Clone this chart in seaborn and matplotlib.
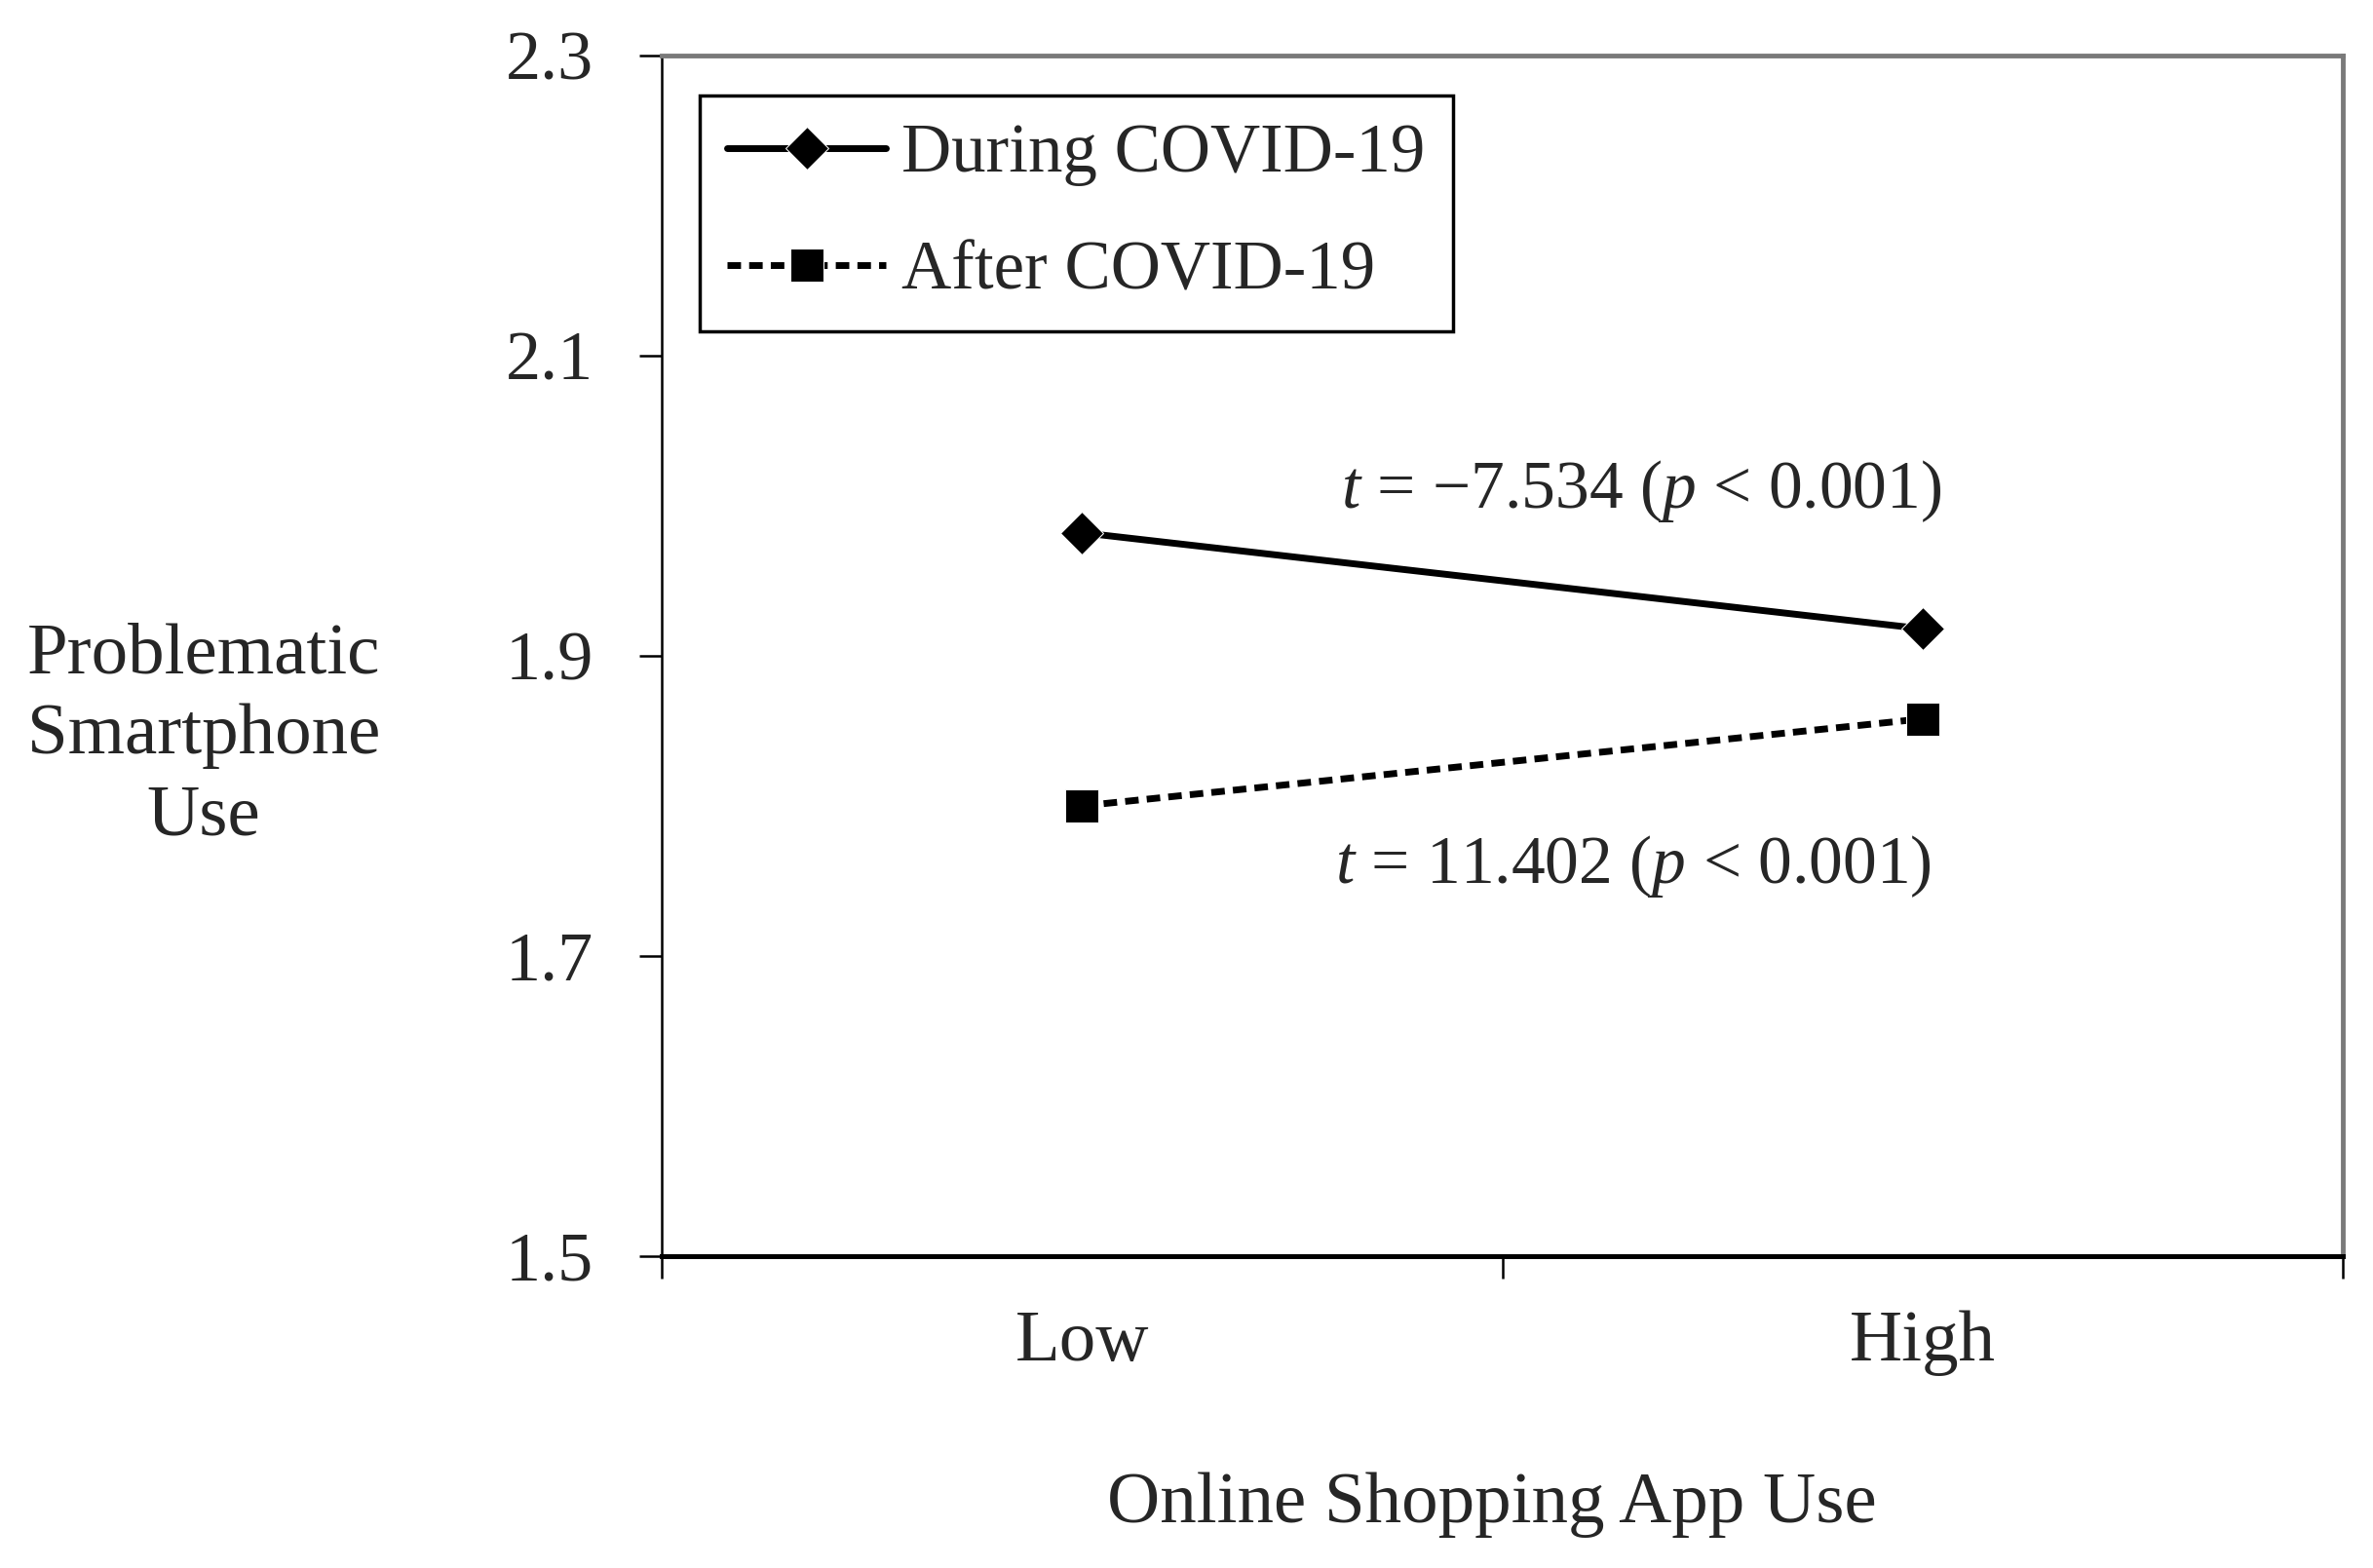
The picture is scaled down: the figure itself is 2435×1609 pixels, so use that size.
import numpy as np
import pandas as pd
import matplotlib
matplotlib.use("Agg")
import matplotlib.pyplot as plt
import seaborn as sns

# data
levels = ["Low", "High"]
series = ["During COVID-19", "After COVID-19"]
during_vals = [1.982, 1.918]
after_vals = [1.800, 1.858]
y_ticks = [1.5, 1.7, 1.9, 2.1, 2.3]
t_labels = [r"$\mathit{t}$ = −7.534 ($\mathit{p}$ < 0.001)",
            r"$\mathit{t}$ = 11.402 ($\mathit{p}$ < 0.001)"]

sns.set_style("ticks")
plt.rcParams["font.family"] = ["Liberation Serif", "DejaVu Serif"]
plt.rcParams["mathtext.fontset"] = "custom"
plt.rcParams["mathtext.rm"] = "Liberation Serif"
plt.rcParams["mathtext.it"] = "Liberation Serif:italic"

df = pd.DataFrame({
    "level": levels * 2,
    "value": during_vals + after_vals,
    "period": [series[0]] * 2 + [series[1]] * 2,
})

fig = plt.figure(figsize=(24.35, 16.09), dpi=100)
ax = fig.add_axes([0.2789, 0.1989, 0.7084, 0.7657])

styles = {
    series[0]: dict(marker="D", markersize=22, linestyle="-"),
    series[1]: dict(marker="s", markersize=24, linestyle=(0, (2.0, 1.2))),
}
for name in series:
    sub = df[df.period == name]
    sns.lineplot(data=sub, x="level", y="value", color="black", linewidth=5,
                 sort=False, label=name, ax=ax, **styles[name])

ax.set_ylim(y_ticks[0], y_ticks[-1])
ax.set_yticks(y_ticks)
ax.set_yticklabels([f"{v:.1f}" for v in y_ticks])
ax.set_xlim(-0.5, len(levels) - 0.5)
ax.set_xticks(np.arange(len(levels) + 1) - 0.5)
ax.set_xticklabels([])
ax.set_xticks(np.arange(len(levels)), minor=True)
ax.set_xticklabels(levels, minor=True)

ax.tick_params(axis="y", which="major", direction="out", length=16.5, width=1.8,
               color="black", labelsize=52, pad=34)
ax.tick_params(axis="x", which="major", direction="out", length=16.5, width=1.8,
               color="black")
ax.tick_params(axis="x", which="minor", length=0, labelsize=54, pad=40)

for side in ["top", "right"]:
    ax.spines[side].set_color("#7a7a7a")
    ax.spines[side].set_linewidth(3.5)
ax.spines["left"].set_color("black")
ax.spines["left"].set_linewidth(1.8)
ax.spines["bottom"].set_color("black")
ax.spines["bottom"].set_linewidth(3.6)

ax.set_xlabel("Online Shopping App Use", fontsize=54, va="center")
ax.xaxis.set_label_coords(0.494, -0.207)
ax.set_ylabel("Problematic\nSmartphone\nUse", fontsize=54, rotation=0,
              ha="center", va="center", multialignment="center", linespacing=1.3)
ax.yaxis.set_label_coords(-0.2725, 0.433)

ax.text(1.023, 1.999, t_labels[0], fontsize=50, ha="right", va="baseline")
ax.text(1.011, 1.749, t_labels[1], fontsize=50, ha="right", va="baseline")

leg = ax.legend(loc="upper left", bbox_to_anchor=(0.0226, 0.9667), borderaxespad=0,
                fontsize=51, frameon=True, fancybox=False, framealpha=1,
                edgecolor="black", handlelength=2.3, handletextpad=0.22,
                borderpad=0.4, labelspacing=0.78)
leg.get_frame().set_linewidth(2.5)

fig.savefig("out.png", dpi=100)
